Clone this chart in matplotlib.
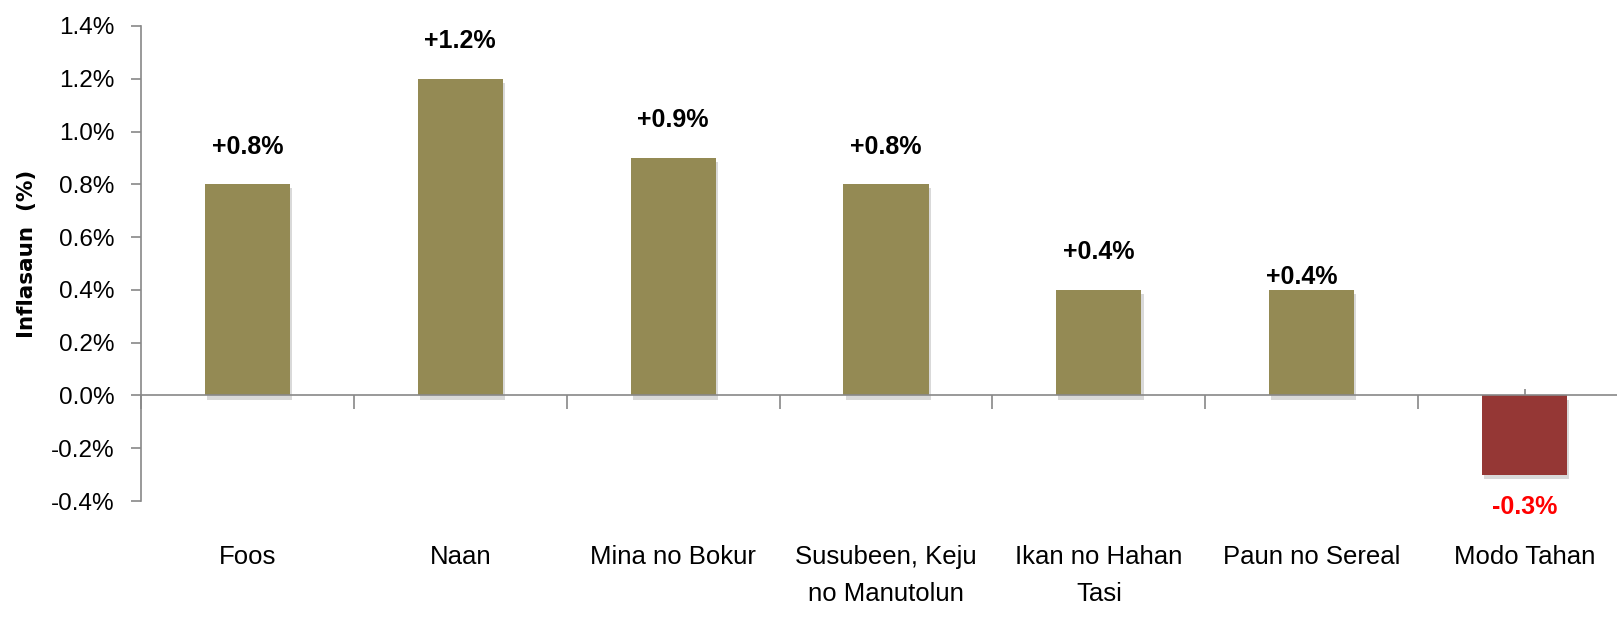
import matplotlib
matplotlib.use("Agg")
import matplotlib.pyplot as plt
import matplotlib.patheffects as pe
from matplotlib.ticker import FixedLocator, FuncFormatter, NullFormatter

categories = ["Foos", "Naan", "Mina no Bokur", "Susubeen, Keju\nno Manutolun",
              "Ikan no Hahan\nTasi", "Paun no Sereal", "Modo Tahan"]
values = [0.8, 1.2, 0.9, 0.8, 0.4, 0.4, -0.3]
value_labels = ["+0.8%", "+1.2%", "+0.9%", "+0.8%", "+0.4%", "+0.4%", "-0.3%"]
yticks = [-0.4, -0.2, 0.0, 0.2, 0.4, 0.6, 0.8, 1.0, 1.2, 1.4]

# style
label_offsets_pt = [27, 27, 27, 27, 27, 9, -23]
label_dx_pt = [0, 0, 0, 0, 0, -7, 0]
pos_color = "#948A54"
neg_color = "#953735"

plt.rcParams['font.family'] = ['Liberation Sans', 'DejaVu Sans']

fig = plt.figure(figsize=(16.17, 6.19), dpi=100)
ax = fig.add_axes([141/1617, 1-501/619, (1631-141)/1617, (501-26)/619])

x = list(range(len(categories)))
colors = [pos_color if v >= 0 else neg_color for v in values]
bars = ax.bar(x, values, width=0.40, color=colors, zorder=2,
              path_effects=[pe.SimplePatchShadow(offset=(1.5, -3), alpha=0.22, shadow_rgbFace="#555555"),
                            pe.Normal()])

for i, (b, v, t) in enumerate(zip(bars, values, value_labels)):
    top = b.get_height() if v >= 0 else v
    ax.annotate(t, (b.get_x() + b.get_width()/2, top),
                xytext=(label_dx_pt[i], label_offsets_pt[i]), textcoords="offset points",
                ha="center", va="center", fontsize=18, fontweight="bold",
                color="black" if v >= 0 else "#FF0000")

ax.set_xlim(-0.5, len(categories) - 0.5)
ax.set_ylim(-0.4, 1.4)
ax.set_yticks(yticks)
ax.yaxis.set_major_formatter(FuncFormatter(lambda v, p: f"{v:.1f}%"))
ax.tick_params(axis="y", direction="out", length=7, width=1.2, color="#888888",
               labelsize=17.5, pad=12)
ax.set_ylabel("Inflasaun  (%)", fontsize=15.5, fontweight="heavy",
              family=["DejaVu Sans"])
ax.yaxis.set_label_coords(-0.0695, 0.52)

for s in ["top", "right"]:
    ax.spines[s].set_visible(False)
ax.spines["left"].set_color("#888888")
ax.spines["left"].set_linewidth(1.2)
ax.spines["bottom"].set_position(("data", 0))
ax.spines["bottom"].set_color("#888888")
ax.spines["bottom"].set_linewidth(1.2)

boundaries = [i + 0.5 for i in range(-1, len(categories))]
ax.xaxis.set_major_locator(FixedLocator(boundaries))
ax.xaxis.set_major_formatter(NullFormatter())
ax.xaxis.set_minor_locator(FixedLocator(x))
ax.set_xticklabels(categories, minor=True)
ax.tick_params(axis="x", which="major", direction="out", length=10, width=1.2, color="#888888")
ax.tick_params(axis="x", which="minor", direction="in", length=4, width=1.2, color="#888888",
               labelsize=18.5, pad=107.5)
for lbl in ax.get_xticklabels(minor=True):
    lbl.set_multialignment("center")
    lbl.set_linespacing(1.72)

fig.savefig("out.png", dpi=100)
